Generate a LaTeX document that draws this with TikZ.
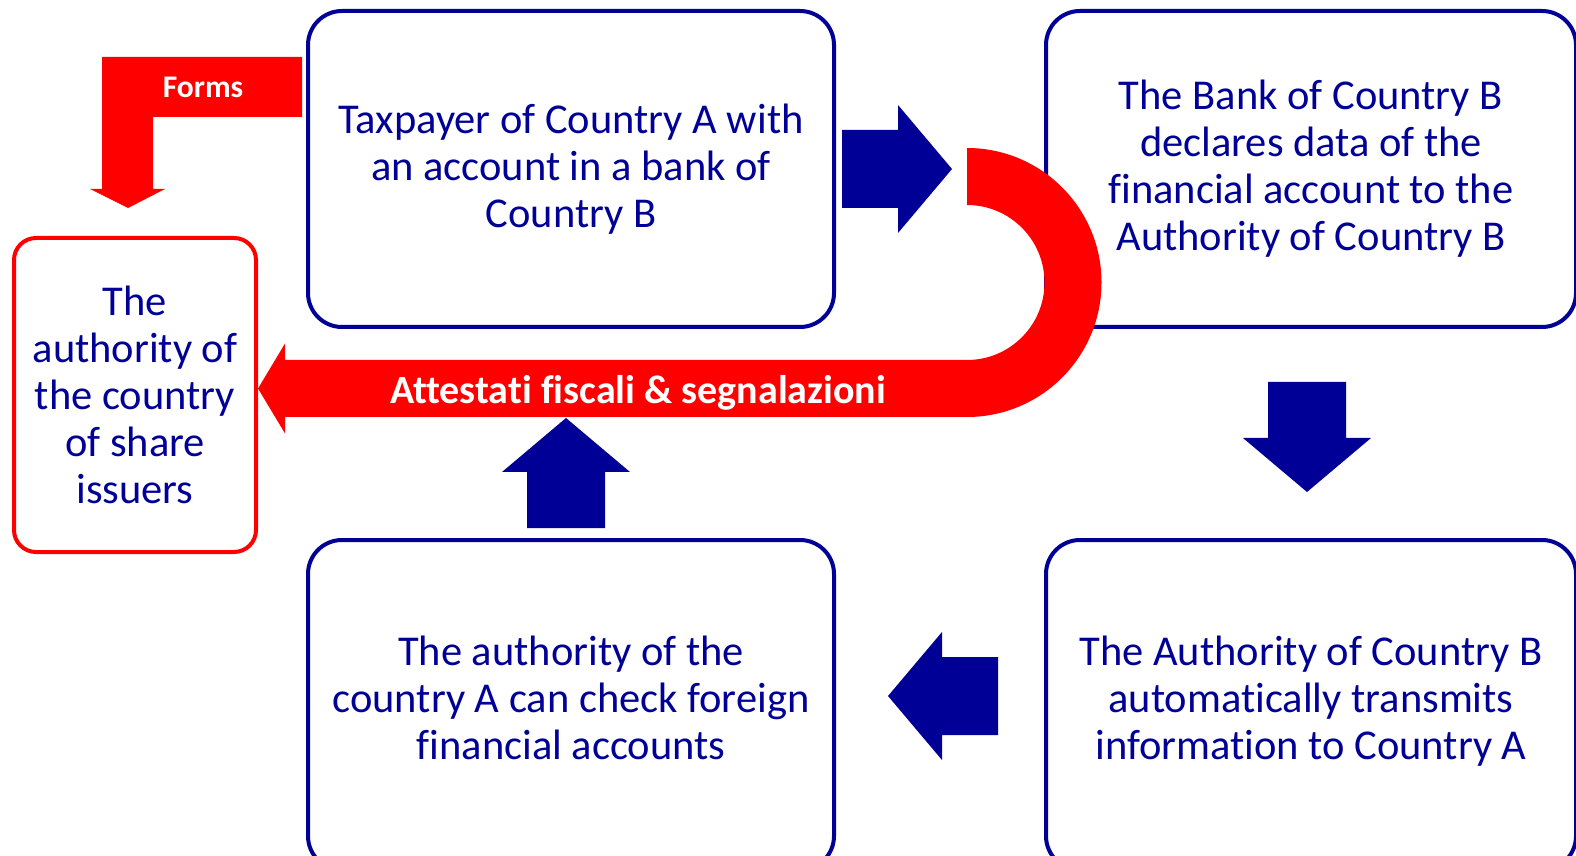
\documentclass[tikz,border=0pt]{standalone}
\usepackage{fontspec}
\setmainfont{Carlito}[Ligatures=NoCommon]
\usepackage{tikz}
\usetikzlibrary{positioning,calc}
\usepackage{xcolor}
\definecolor{navy}{RGB}{0,0,150}

\begin{document}
\begin{tikzpicture}[
    x=1pt, y=1pt,
    box/.style={
        draw=navy,
        line width=4pt,
        rounded corners=34pt,
        text=navy,
        align=center,
        inner sep=0pt,
        font=\fontsize{42.5}{47}\selectfont
    },
    redbox/.style={box, draw=red, rounded corners=22pt},
    whitetext/.style={text=white, inner sep=0pt, font=\bfseries\fontsize{40}{47}\selectfont},
    blockarrow/.pic={
        \fill[navy] (0,0) -- (-54,64) -- (-54,39) -- (-110,39)
            -- (-110,-39) -- (-54,-39) -- (-54,-64) -- cycle;
    }
]
\useasboundingbox (0,0) rectangle (1576,855);

% ---------------- Boxes ----------------
\node[box, minimum width=526pt, minimum height=316pt] (tax) at (571,686)
    {Taxpayer of Country A with\\an account in a bank of\\Country B};
\node[box, minimum width=530pt, minimum height=316pt] (bank) at (1311,686)
    {The Bank of Country B\\declares data of the\\financial account to the\\Authority of Country B};
\node[box, minimum width=530pt, minimum height=330pt, text depth=14pt] (autB) at (1311,150)
    {The Authority of Country B\\automatically transmits\\information to Country A};
\node[box, minimum width=526pt, minimum height=330pt, text depth=14pt] (autA) at (571,150)
    {The authority of the\\country A can check foreign\\financial accounts};
\node[redbox, minimum width=242pt, minimum height=314pt] (issuers) at (135,460)
    {The\\authority of\\the country\\of share\\issuers};

% ---------------- Blue arrows ----------------
\pic at (952,686) {blockarrow};
\pic[rotate=-90] at (1307,363) {blockarrow};
\pic[rotate=180] at (888,159) {blockarrow};
\pic[rotate=90] at (566,437) {blockarrow};

% ---------------- Red arrows ----------------
\fill[red] (302,798) -- (102,798) -- (102,666) -- (90,666) -- (128,647)
    -- (165,666) -- (153,666) -- (153,738) -- (302,738) -- cycle;
\node[whitetext, font=\bfseries\fontsize{31.5}{36}\selectfont] (forms) at (203,768) {Forms};

\fill[red] (967,707) arc[start angle=90, end angle=-90, radius=134.5]
    -- (285,438) -- (285,421.5) -- (258,466.5) -- (285,511.5) -- (285,495)
    -- (967,495) arc[start angle=-90, end angle=90, radius=77.5] -- cycle;
\node[whitetext] (attestati) at (638,462) {Attestati fiscali \& segnalazioni};

\end{tikzpicture}
\end{document}
